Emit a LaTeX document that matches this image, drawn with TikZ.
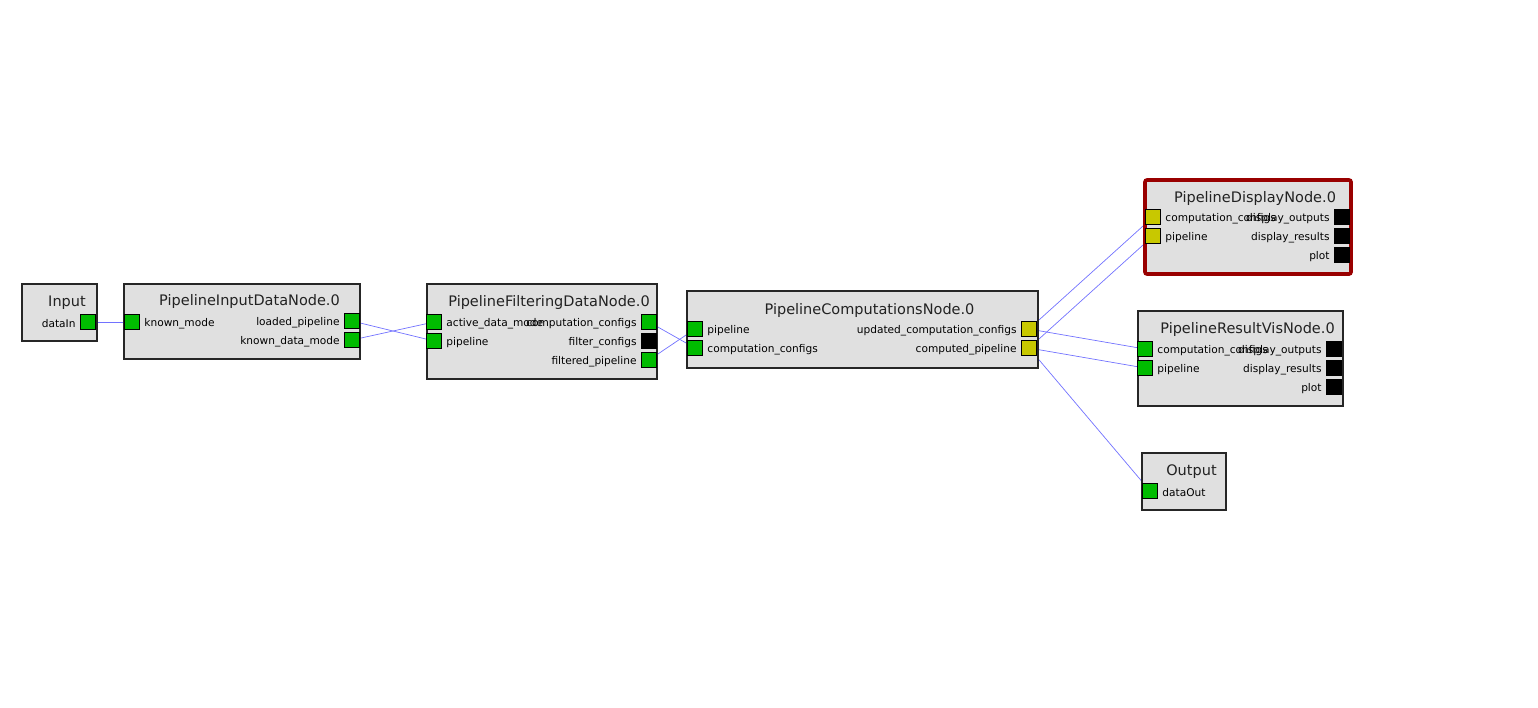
\documentclass[tikz,border=0pt]{standalone}
\usepackage{fontspec}
\setmainfont{DejaVu Sans}
\usetikzlibrary{positioning}
\pgfdeclarelayer{background}
\pgfsetlayers{background,main}
\definecolor{boxfill}{HTML}{E0E0E0}
\definecolor{pgreen}{HTML}{00BB00}
\definecolor{pyellow}{HTML}{C8C800}
\definecolor{conncol}{HTML}{7272FF}
\definecolor{selred}{HTML}{990000}
\definecolor{titlecol}{HTML}{222222}
\tikzset{
  nodebox/.style={draw=black!85, line width=1.3pt, fill=boxfill, inner sep=0pt, outer sep=0pt},
  selbox/.style={draw=selred, line width=3.6pt, fill=boxfill, rounded corners=2pt, inner sep=0pt, outer sep=0pt},
  port/.style={draw=black, line width=1.2pt, minimum size=14.5pt, inner sep=0pt, outer sep=0pt},
  gport/.style={port, fill=pgreen},
  yport/.style={port, fill=pyellow},
  kport/.style={port, fill=black},
  ttl/.style={font=\fontsize{14.5}{17}\selectfont, text=titlecol, inner sep=0pt, yshift=-1.5pt},
  inlbl/.style={font=\fontsize{10.6}{12}\selectfont, inner sep=0pt, anchor=west, xshift=5pt, yshift=-1.3pt},
  outlbl/.style={font=\fontsize{10.6}{12}\selectfont, inner sep=0pt, anchor=east, xshift=-5pt, yshift=-1.3pt},
  conn/.style={draw=conncol, line width=0.7pt},
}
\begin{document}
\begin{tikzpicture}[x=1pt,y=-1pt]
\useasboundingbox (0,0) rectangle (1538,707);

% boxes
\draw[nodebox] (22,284) rectangle (97,341);
\draw[nodebox] (124,284) rectangle (360,359);
\draw[nodebox] (427,284) rectangle (657,379);
\draw[nodebox] (687,291) rectangle (1038,368);
\draw[selbox] (1145,180) rectangle (1351,274);
\draw[nodebox] (1138,311) rectangle (1343,406);
\draw[nodebox] (1142,453) rectangle (1226,510);

% titles
\node[ttl] (tInput) at (67,301) {Input};
\node[ttl] (tInData) at (249.5,300) {PipelineInputDataNode.0};
\node[ttl] (tFilt) at (549,301) {PipelineFilteringDataNode.0};
\node[ttl] (tComp) at (869.5,309) {PipelineComputationsNode.0};
\node[ttl] (tDisp) at (1255,197) {PipelineDisplayNode.0};
\node[ttl] (tVis) at (1247.5,328) {PipelineResultVisNode.0};
\node[ttl] (tOut) at (1191.5,470) {Output};

% Input
\node[gport] (inDataIn) at (88,322) {};
\node[outlbl] at (inDataIn.west) {dataIn};

% PipelineInputDataNode
\node[gport] (idKnown) at (132,322) {};
\node[inlbl] at (idKnown.east) {known\_mode};
\node[gport] (idLoaded) at (352,321) {};
\node[outlbl] at (idLoaded.west) {loaded\_pipeline};
\node[gport] (idKdm) at (352,340) {};
\node[outlbl] at (idKdm.west) {known\_data\_mode};

% PipelineFilteringDataNode
\node[gport] (fActive) at (434,322) {};
\node[inlbl] at (fActive.east) {active\_data\_mode};
\node[gport] (fPipe) at (434,341) {};
\node[inlbl] at (fPipe.east) {pipeline};
\node[gport] (fCc) at (649,322) {};
\node[outlbl] at (fCc.west) {computation\_configs};
\node[kport] (fFc) at (649,341) {};
\node[outlbl] at (fFc.west) {filter\_configs};
\node[gport] (fFp) at (649,360) {};
\node[outlbl] at (fFp.west) {filtered\_pipeline};

% PipelineComputationsNode
\node[gport] (cPipe) at (695,329) {};
\node[inlbl] at (cPipe.east) {pipeline};
\node[gport] (cCc) at (695,348) {};
\node[inlbl] at (cCc.east) {computation\_configs};
\node[yport] (cUpd) at (1029,329) {};
\node[outlbl] at (cUpd.west) {updated\_computation\_configs};
\node[yport] (cCp) at (1029,348) {};
\node[outlbl] at (cCp.west) {computed\_pipeline};

% PipelineDisplayNode
\node[yport] (dCc) at (1153,217) {};
\node[inlbl] at (dCc.east) {computation\_configs};
\node[yport] (dPipe) at (1153,236) {};
\node[inlbl] at (dPipe.east) {pipeline};
\node[kport] (dOut) at (1342,217) {};
\node[outlbl] at (dOut.west) {display\_outputs};
\node[kport] (dRes) at (1342,236) {};
\node[outlbl] at (dRes.west) {display\_results};
\node[kport] (dPlot) at (1342,255) {};
\node[outlbl] at (dPlot.west) {plot};

% PipelineResultVisNode
\node[gport] (vCc) at (1145,349) {};
\node[inlbl] at (vCc.east) {computation\_configs};
\node[gport] (vPipe) at (1145,368) {};
\node[inlbl] at (vPipe.east) {pipeline};
\node[kport] (vOut) at (1334,349) {};
\node[outlbl] at (vOut.west) {display\_outputs};
\node[kport] (vRes) at (1334,368) {};
\node[outlbl] at (vRes.west) {display\_results};
\node[kport] (vPlot) at (1334,387) {};
\node[outlbl] at (vPlot.west) {plot};

% Output
\node[gport] (oDataOut) at (1150,491) {};
\node[inlbl] at (oDataOut.east) {dataOut};

% connectors
\begin{pgfonlayer}{background}
\draw[conn] (inDataIn.center) -- (idKnown.center);
\draw[conn] (idLoaded.center) -- (fPipe.center);
\draw[conn] (idKdm.center) -- (fActive.center);
\draw[conn] (fCc.center) -- (cCc.center);
\draw[conn] (fFp.center) -- (cPipe.center);
\draw[conn] (cUpd.center) -- (dCc.center);
\draw[conn] (cCp.center) -- (dPipe.center);
\draw[conn] (cUpd.center) -- (vCc.center);
\draw[conn] (cCp.center) -- (vPipe.center);
\draw[conn] (cCp.center) -- (oDataOut.center);
\end{pgfonlayer}
\end{tikzpicture}
\end{document}
